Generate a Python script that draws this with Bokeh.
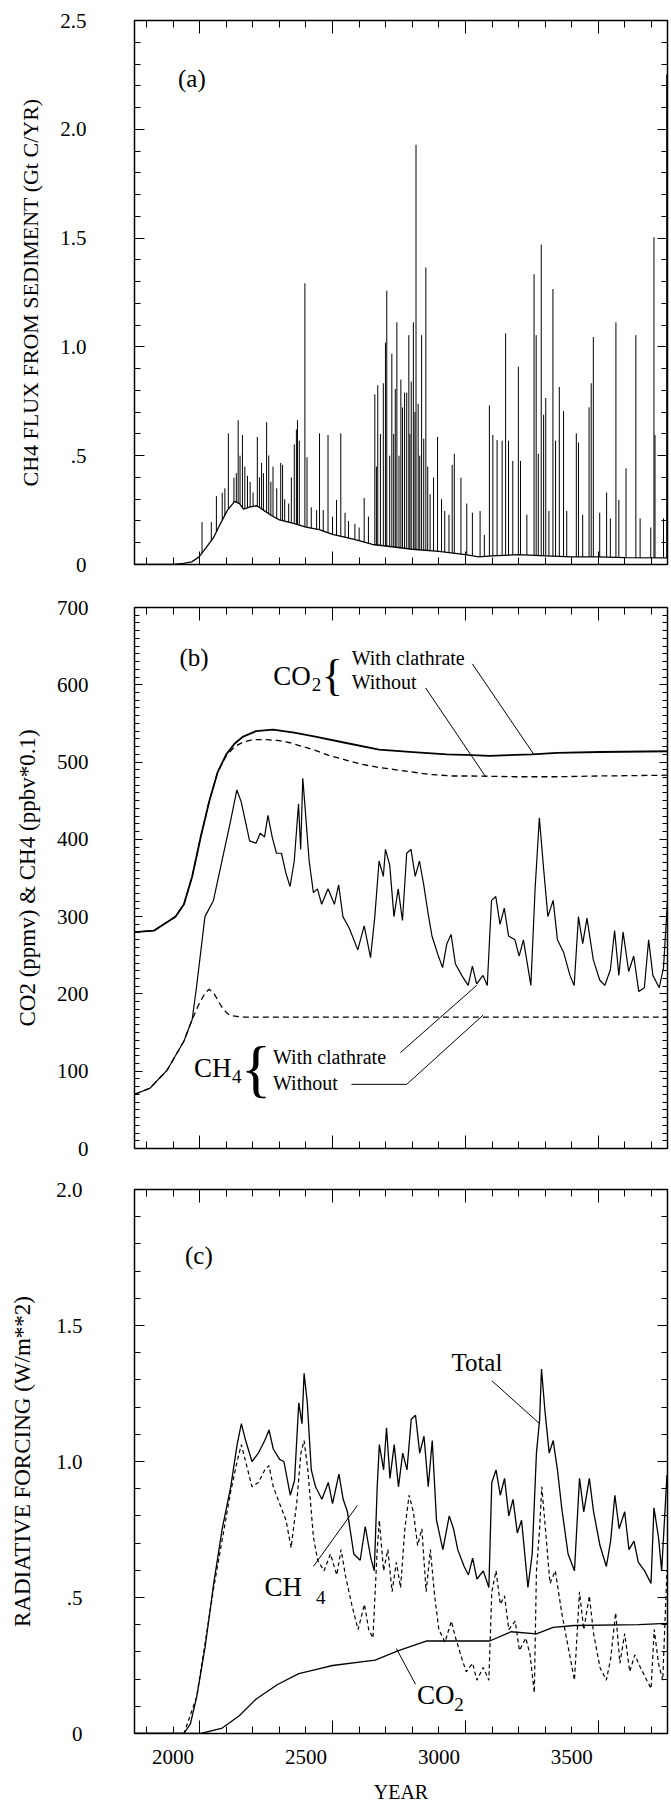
import numpy as np
from bokeh.plotting import figure
from bokeh.models import Range1d, LinearAxis, FixedTicker, Label, CustomLabelingPolicy
from bokeh.layouts import column
from bokeh.embed import file_html
from bokeh.resources import INLINE

FONT = "Liberation Serif"
X0, X1 = 1855, 3860

# ---------------- panel (a): CH4 flux from sediment ----------------
flux_base_year = [1855, 2000, 2040, 2070, 2097, 2116, 2153, 2178, 2205, 2232, 2250, 2265, 2290,
                  2315, 2340, 2370, 2400, 2450, 2500, 2550, 2600, 2650, 2700, 2750, 2800, 2900,
                  3000, 3100, 3150, 3200, 3300, 3400, 3500, 3600, 3700, 3860]
flux_base = [0, 0, 0.005, 0.012, 0.034, 0.064, 0.125, 0.187, 0.25, 0.29, 0.28, 0.255, 0.265,
             0.27, 0.25, 0.225, 0.205, 0.19, 0.172, 0.16, 0.138, 0.125, 0.11, 0.092, 0.085, 0.07,
             0.06, 0.045, 0.035, 0.04, 0.045, 0.04, 0.035, 0.035, 0.032, 0.03]
spike_year = [2109, 2144, 2163, 2185, 2195, 2208, 2229, 2238, 2245, 2252, 2261, 2270, 2280, 2290,
              2301, 2317, 2325, 2333, 2340, 2352, 2360, 2368, 2376, 2390, 2405, 2412, 2420, 2435,
              2445, 2456, 2464, 2468, 2475, 2496, 2504, 2520, 2540, 2551, 2565,
              2583, 2600, 2615, 2631, 2647, 2660, 2684, 2700, 2719, 2735, 2759, 2765, 2770, 2780,
              2791, 2799, 2804, 2815, 2823, 2830, 2836, 2842, 2850, 2857, 2863, 2871, 2879, 2887,
              2891, 2896, 2904, 2910, 2914, 2922, 2928, 2935, 2943, 2951, 2958, 2967, 2980, 2995,
              3010, 3022, 3038, 3050, 3058, 3083, 3105, 3126, 3155, 3171, 3190, 3203, 3219, 3238,
              3251, 3262, 3278, 3299, 3307, 3331, 3358, 3366, 3374, 3385, 3394, 3402, 3414, 3429,
              3439, 3453, 3469, 3481, 3517, 3525, 3541, 3565, 3573, 3581, 3605, 3631, 3645, 3666,
              3677, 3704, 3741, 3757, 3797, 3809, 3813, 3845, 3857]
spike_top = [0.195, 0.195, 0.314, 0.33, 0.35, 0.603, 0.399, 0.42, 0.663, 0.5, 0.595, 0.45, 0.408, 0.38,
             0.331, 0.586, 0.4, 0.467, 0.42, 0.654, 0.501, 0.38, 0.45, 0.35, 0.467, 0.458, 0.3, 0.28,
             0.4, 0.552, 0.62, 0.663, 0.569, 1.292, 0.493, 0.263, 0.25, 0.603, 0.25,
             0.595, 0.22, 0.297, 0.603, 0.238, 0.2, 0.187, 0.17, 0.306, 0.22, 0.782, 0.45, 0.824, 0.6,
             0.833, 1.02, 1.258, 0.5, 0.969, 0.6, 0.807, 1.113, 0.5, 0.85, 0.722, 0.79, 0.79, 1.054,
             0.6, 0.841, 1.113, 0.7, 1.929, 0.739, 0.5, 1.054, 0.578, 1.365, 0.45, 0.323, 0.4, 0.586,
             0.3, 0.246, 0.229, 0.458, 0.509, 0.399, 0.28, 0.238, 0.246, 0.136, 0.731, 0.595, 0.572, 0.569,
             1.062, 0.569, 0.476, 0.909, 0.476, 0.229, 1.334, 1.054, 0.509, 1.47, 0.688, 0.765, 0.246, 1.266,
             0.569, 0.816, 0.705, 0.246, 0.603, 0.561, 0.229, 0.722, 0.833, 1.045, 0.238, 0.331, 0.212, 1.113,
             0.297, 0.442, 1.054, 0.212, 0.17, 1.504, 0.595, 0.212, 2.252]

# ---------------- panel (b): concentrations ----------------
co2_with_year = [1855, 1929, 2009, 2041, 2072, 2104, 2136, 2168, 2200, 2232, 2264, 2312, 2376, 2456,
                 2535, 2647, 2775, 2903, 3030, 3126, 3190, 3350, 3445, 3605, 3860]
co2_with = [280, 282, 300, 316, 352, 403, 449, 487, 510, 524, 533, 540, 542, 538,
            533, 525, 516, 513, 510, 509, 508, 510, 512, 513, 514]
co2_without_year = [1855, 1929, 2009, 2041, 2072, 2104, 2136, 2168, 2200, 2232, 2264, 2300, 2350, 2392,
                    2440, 2488, 2536, 2583, 2647, 2711, 2775, 2839, 2903, 2967, 3050, 3126, 3286, 3445,
                    3605, 3860]
co2_without = [280, 282, 300, 316, 352, 403, 449, 487, 508, 520, 526, 529, 529, 528,
               525, 520, 515, 509, 503, 497, 493, 490, 487, 484, 482, 482, 481, 481,
               482, 483]
ch4_without_year = [1855, 1913, 1977, 2041, 2072, 2095, 2120, 2136, 2155, 2180, 2200, 2216, 2260, 3860]
ch4_without = [70, 78, 101, 139, 167, 185, 201, 206, 200, 185, 176, 172, 170, 170]
ch4_with_year = [1855, 1913, 1977, 2041, 2072, 2088, 2120, 2152, 2184, 2216, 2240, 2256, 2288, 2312,
                 2328, 2344, 2357, 2373, 2389, 2408, 2424, 2440, 2456, 2472, 2480, 2488, 2496, 2512,
                 2528, 2543, 2559, 2583, 2607, 2623, 2639, 2663, 2695, 2719, 2743, 2759, 2775, 2791,
                 2799, 2815, 2831, 2847, 2863, 2879, 2895, 2911, 2927, 2943, 2959, 2974, 2998, 3014,
                 3030, 3046, 3062, 3086, 3110, 3126, 3142, 3166, 3182, 3198, 3214, 3230, 3246, 3262,
                 3286, 3302, 3318, 3346, 3362, 3378, 3394, 3410, 3430, 3446, 3469, 3493, 3509, 3525,
                 3541, 3557, 3581, 3605, 3624, 3645, 3661, 3677, 3693, 3714, 3733, 3752, 3773, 3789,
                 3805, 3829, 3845, 3860]
ch4_with = [70, 78, 101, 139, 167, 208, 300, 321, 372, 423, 464, 449, 398, 395,
            408, 403, 431, 403, 382, 382, 357, 339, 372, 446, 387, 479, 444, 372,
            331, 336, 316, 336, 316, 341, 300, 285, 257, 288, 247, 300, 372, 352,
            387, 367, 300, 336, 295, 382, 387, 352, 372, 341, 305, 275, 249, 234,
            265, 277, 239, 224, 211, 236, 213, 224, 211, 321, 326, 290, 311, 275,
            270, 249, 270, 211, 336, 428, 362, 300, 321, 270, 254, 224, 211, 300,
            265, 298, 244, 218, 211, 231, 282, 224, 280, 229, 249, 203, 208, 270,
            224, 208, 234, 321]

# ---------------- panel (c): radiative forcing ----------------
total_year = [1855, 2041, 2065, 2089, 2121, 2153, 2185, 2217, 2241, 2257, 2273, 2297, 2321, 2345,
              2361, 2377, 2401, 2417, 2441, 2457, 2473, 2485, 2493, 2505, 2520, 2536, 2560, 2584,
              2600, 2624, 2640, 2656, 2680, 2704, 2723, 2744, 2757, 2768, 2776, 2792, 2803, 2816,
              2832, 2848, 2864, 2880, 2896, 2912, 2928, 2944, 2960, 2975, 2991, 3015, 3039, 3055,
              3071, 3095, 3111, 3127, 3143, 3167, 3188, 3199, 3215, 3231, 3247, 3263, 3279, 3295,
              3311, 3335, 3351, 3367, 3379, 3386, 3399, 3415, 3430, 3446, 3462, 3486, 3510, 3529,
              3545, 3566, 3582, 3606, 3630, 3646, 3662, 3678, 3699, 3715, 3734, 3750, 3774, 3798,
              3809, 3826, 3838, 3858]
total_rf = [0, 0, 0.035, 0.135, 0.32, 0.552, 0.753, 0.907, 1.062, 1.139, 1.077, 1.0, 1.031, 1.077,
            1.116, 1.046, 1.008, 1.0, 0.876, 0.93, 1.216, 1.139, 1.324, 1.216, 0.969, 0.907, 0.861, 0.923,
            0.845, 0.954, 0.861, 0.815, 0.66, 0.637, 0.761, 0.645, 0.598, 0.907, 1.062, 0.969, 1.124, 0.938,
            1.062, 0.907, 1.031, 0.969, 1.155, 1.17, 1.031, 1.093, 0.907, 1.077, 0.784, 0.676, 0.8, 0.753,
            0.676, 0.614, 0.583, 0.645, 0.568, 0.598, 0.537, 0.923, 0.969, 0.876, 0.938, 0.8, 0.861, 0.737,
            0.784, 0.537, 0.66, 1.031, 1.155, 1.34, 1.186, 1.031, 1.077, 0.969, 0.83, 0.66, 0.598, 0.938,
            0.815, 0.938, 0.815, 0.691, 0.614, 0.707, 0.876, 0.753, 0.815, 0.676, 0.707, 0.63, 0.598, 0.552,
            0.83, 0.722, 0.598, 0.95]
ch4_rf_year = [1855, 2041, 2089, 2153, 2217, 2241, 2257, 2273, 2297, 2321, 2345, 2361, 2377, 2401,
               2425, 2444, 2465, 2481, 2493, 2507, 2528, 2544, 2568, 2592, 2616, 2632, 2648, 2672,
               2696, 2720, 2736, 2752, 2768, 2776, 2792, 2808, 2824, 2840, 2856, 2872, 2888, 2904,
               2920, 2936, 2952, 2968, 2984, 3000, 3023, 3047, 3063, 3087, 3103, 3127, 3143, 3167,
               3188, 3199, 3215, 3231, 3247, 3263, 3287, 3303, 3327, 3343, 3359, 3367, 3379, 3387,
               3398, 3418, 3438, 3462, 3486, 3510, 3529, 3545, 3566, 3582, 3606, 3630, 3646, 3665,
               3681, 3699, 3718, 3737, 3758, 3782, 3798, 3810, 3826, 3842, 3858]
ch4_rf = [0, 0, 0.135, 0.536, 0.89, 1.0, 1.062, 1.0, 0.907, 0.923, 0.969, 0.985, 0.907, 0.845,
          0.784, 0.683, 0.845, 1.031, 1.077, 0.969, 0.722, 0.637, 0.598, 0.66, 0.583, 0.676, 0.583, 0.475,
          0.382, 0.475, 0.382, 0.351, 0.676, 0.784, 0.598, 0.676, 0.521, 0.629, 0.536, 0.753, 0.876, 0.815,
          0.691, 0.753, 0.521, 0.676, 0.506, 0.382, 0.336, 0.413, 0.351, 0.274, 0.227, 0.258, 0.196, 0.243,
          0.196, 0.521, 0.598, 0.475, 0.506, 0.382, 0.413, 0.305, 0.351, 0.289, 0.15, 0.598, 0.753, 0.907,
          0.784, 0.552, 0.598, 0.444, 0.32, 0.196, 0.521, 0.382, 0.506, 0.367, 0.243, 0.196, 0.274, 0.444,
          0.258, 0.367, 0.227, 0.289, 0.243, 0.196, 0.165, 0.382, 0.258, 0.196, 0.598]
co2_rf_year = [1855, 2105, 2185, 2249, 2313, 2393, 2473, 2536, 2600, 2760, 2848, 2952, 3191, 3271,
               3367, 3430, 3510, 3750, 3858]
co2_rf = [0, 0, 0.02, 0.065, 0.127, 0.18, 0.22, 0.235, 0.25, 0.27, 0.305, 0.34, 0.34, 0.374,
          0.366, 0.39, 0.397, 0.4, 0.405]

# ---------------- ticks ----------------
x_minor_ticks = list(range(1900, 3900, 100))
x_tall_ticks = [2100, 2600, 3100, 3600]
x_label_ticks = [2000, 2500, 3000, 3500]
a_ticks = [0, 0.5, 1.0, 1.5, 2.0, 2.5]
a_tick_labels = ["0", ".5", "1.0", "1.5", "2.0", "2.5"]
a_minor = [i / 10 for i in range(0, 26)]
b_ticks = [0, 100, 200, 300, 400, 500, 600, 700]
b_tick_labels = ["0", "100", "200", "300", "400", "500", "600", "700"]
b_minor = list(range(0, 701, 10))
c_ticks = [0, 0.5, 1.0, 1.5, 2.0]
c_tick_labels = ["0", ".5", "1.0", "1.5", "2.0"]
c_minor = [i / 10 for i in range(0, 21)]

NO_LABELS = CustomLabelingPolicy(code="""
for (const i of indices) { indices.unset(i) }
return indices
""")


def make_fig(width, height, left, right, top, bottom, ymax):
    p = figure(width=width, height=height, x_range=Range1d(X0, X1), y_range=Range1d(0, ymax),
               x_axis_location=None, y_axis_location=None, toolbar_location=None,
               output_backend="svg", min_border_left=left, min_border_right=right,
               min_border_top=top, min_border_bottom=bottom)
    p.grid.visible = False
    p.outline_line_color = "black"
    p.outline_line_width = 1.5
    p.background_fill_color = "white"
    p.border_fill_color = "white"
    return p


def hide_labels(ax):
    ax.major_label_text_font_size = "0px"
    ax.major_label_standoff = 0
    ax.major_label_policy = NO_LABELS


def add_x_axes(p, with_labels=False):
    for side in ("below", "above"):
        ax = LinearAxis(ticker=FixedTicker(ticks=x_tall_ticks, minor_ticks=x_minor_ticks))
        ax.axis_line_color = None
        ax.major_tick_in, ax.major_tick_out = 13, 0
        ax.minor_tick_in, ax.minor_tick_out = 7, 0
        ax.major_tick_line_color = "black"
        ax.minor_tick_line_color = "black"
        hide_labels(ax)
        p.add_layout(ax, side)
    if with_labels:
        ax = LinearAxis(ticker=FixedTicker(ticks=x_label_ticks, minor_ticks=[]))
        ax.axis_line_color = None
        ax.major_tick_line_color = None
        ax.minor_tick_line_color = None
        ax.major_tick_in = ax.major_tick_out = 0
        ax.minor_tick_in = ax.minor_tick_out = 0
        ax.major_label_text_font = FONT
        ax.major_label_text_font_size = "21px"
        ax.major_label_text_color = "black"
        ax.major_label_standoff = 16
        ax.axis_label = "YEAR"
        ax.axis_label_text_font = FONT
        ax.axis_label_text_font_size = "20px"
        ax.axis_label_text_font_style = "normal"
        ax.axis_label_text_color = "black"
        ax.axis_label_standoff = 14
        p.add_layout(ax, "below")


def add_y_axes(p, ticks, labels, minor, title, title_size, standoff, title_standoff, tmaj, tmin):
    for side in ("left", "right"):
        ax = LinearAxis(ticker=FixedTicker(ticks=ticks, minor_ticks=minor))
        ax.axis_line_color = None
        ax.major_tick_in, ax.major_tick_out = tmaj, 0
        ax.minor_tick_in, ax.minor_tick_out = tmin, 0
        ax.major_tick_line_color = "black"
        ax.minor_tick_line_color = "black"
        if side == "left":
            ax.major_label_overrides = {t: s for t, s in zip(ticks, labels)}
            ax.major_label_text_font = FONT
            ax.major_label_text_font_size = "21px"
            ax.major_label_text_color = "black"
            ax.major_label_standoff = standoff
            ax.axis_label = title
            ax.axis_label_text_font = FONT
            ax.axis_label_text_font_size = title_size
            ax.axis_label_text_font_style = "normal"
            ax.axis_label_text_color = "black"
            ax.axis_label_standoff = title_standoff
        else:
            hide_labels(ax)
        p.add_layout(ax, side)


def text(p, x, y, s, size, align="left", baseline="middle"):
    p.add_layout(Label(x=x, y=y, text=s, text_font=FONT, text_font_size=f"{size}px",
                       text_align=align, text_baseline=baseline, text_color="black"))


# ---------------- figure (a) ----------------
pa = make_fig(671, 587, 130, 4, 20, 23, 2.5)
add_x_axes(pa)
add_y_axes(pa, a_ticks, a_tick_labels, a_minor, "CH4 FLUX FROM SEDIMENT (Gt C/YR)", "22px", 48, 14, 10, 6)
pa.line(flux_base_year, flux_base, line_color="black", line_width=1.3)
spike_foot = np.interp(spike_year, flux_base_year, flux_base)
pa.segment(x0=spike_year, y0=spike_foot, x1=spike_year, y1=spike_top, line_color="black", line_width=1.0)
text(pa, 2071, 2.235, "(a)", 25, align="center")

# ---------------- figure (b) ----------------
pb = make_fig(671, 581, 130, 4, 20, 20, 700)
add_x_axes(pb)
add_y_axes(pb, b_ticks, b_tick_labels, b_minor, "CO2 (ppmv) & CH4 (ppbv*0.1)", "23px", 46, 14, 8, 5)
pb.line(co2_with_year, co2_with, line_color="black", line_width=1.8)
pb.line(co2_without_year, co2_without, line_color="black", line_width=1.3, line_dash="6 4")
pb.line(ch4_with_year, ch4_with, line_color="black", line_width=1.2)
pb.line(ch4_without_year, ch4_without, line_color="black", line_width=1.3, line_dash="6 4")
text(pb, 2079, 635, "(b)", 25, align="center")
text(pb, 2377, 612, "CO", 27)
text(pb, 2522, 600, "2", 19)
text(pb, 2599, 612, "{", 44, align="center")
text(pb, 2672, 635, "With clathrate", 20)
text(pb, 2672, 603, "Without", 20)
lead_co2_with_x, lead_co2_with_y = [3126, 3357], [627, 510]
lead_co2_wo_x, lead_co2_wo_y = [2950, 3174], [596, 482]
pb.line(lead_co2_with_x, lead_co2_with_y, line_color="black", line_width=1)
pb.line(lead_co2_wo_x, lead_co2_wo_y, line_color="black", line_width=1)
text(pb, 2079, 104, "CH", 27)
text(pb, 2222, 93, "4", 19)
text(pb, 2312, 104, "{", 64, align="center")
text(pb, 2376, 119, "With clathrate", 20)
text(pb, 2376, 84.5, "Without", 20)
lead_ch4_with_x, lead_ch4_with_y = [2855, 3142], [124, 211]
lead_ch4_wo_x, lead_ch4_wo_y = [2671, 2879, 3166], [83, 83, 172.5]
pb.line(lead_ch4_with_x, lead_ch4_with_y, line_color="black", line_width=1)
pb.line(lead_ch4_wo_x, lead_ch4_wo_y, line_color="black", line_width=1)

# ---------------- figure (c) ----------------
pc = make_fig(671, 641, 134, 0, 21, 76, 2.0)
add_x_axes(pc, with_labels=True)
add_y_axes(pc, c_ticks, c_tick_labels, c_minor, "RADIATIVE FORCING (W/m**2)", "23px", 52, 18, 10, 6)
pc.line(total_year, total_rf, line_color="black", line_width=1.3)
pc.line(ch4_rf_year, ch4_rf, line_color="black", line_width=1.2, line_dash="4 3")
pc.line(co2_rf_year, co2_rf, line_color="black", line_width=1.3)
text(pc, 2097, 1.757, "(c)", 25, align="center")
text(pc, 3143, 1.364, "Total", 25, align="center")
lead_total_x, lead_total_y = [3199, 3379], [1.297, 1.139]
pc.line(lead_total_x, lead_total_y, line_color="black", line_width=1)
text(pc, 2344, 0.537, "CH", 27)
text(pc, 2538, 0.5, "4", 19)
lead_ch4rf_x, lead_ch4rf_y = [2528, 2693], [0.614, 0.838]
pc.line(lead_ch4rf_x, lead_ch4rf_y, line_color="black", line_width=1)
text(pc, 2918, 0.142, "CO", 27)
text(pc, 3058, 0.108, "2", 19)
lead_co2rf_x, lead_co2rf_y = [2912, 2840], [0.181, 0.3125]
pc.line(lead_co2rf_x, lead_co2rf_y, line_color="black", line_width=1)

layout = column(pa, pb, pc, spacing=0)
open("out.html", "w").write(file_html(layout, INLINE))
